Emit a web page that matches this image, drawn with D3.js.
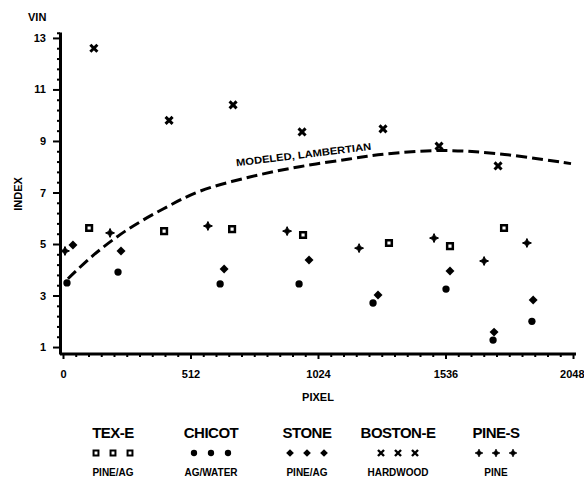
<!DOCTYPE html>
<html>
<head>
<meta charset="utf-8">
<script src="https://cdn.jsdelivr.net/npm/d3@7"></script>
<style>
  body { margin: 0; background: #fff; }
  svg text { font-family: "Liberation Sans Narrow", "Liberation Sans", Arial, sans-serif; font-weight: bold; fill: #000; }
</style>
</head>
<body>
<div id="chart"></div>
<script>
// tick labels
var xTicks = [0, 512, 1024, 1536, 2048];
var yTicks = [1, 3, 5, 7, 9, 11, 13];

// series (pixel position, vin index)
var texPix = [105, 406, 679, 964, 1309, 1554, 1771];
var texVal = [5.62, 5.5, 5.58, 5.35, 5.04, 4.92, 5.62];

var chicotPix = [16, 221, 631, 948, 1245, 1538, 1727, 1883];
var chicotVal = [3.49, 3.91, 3.45, 3.45, 2.71, 3.25, 1.27, 2.0];

var stonePix = [40, 233, 647, 988, 1265, 1554, 1731, 1888];
var stoneVal = [4.96, 4.73, 4.03, 4.38, 3.02, 3.95, 1.58, 2.83];

var bostonPix = [124, 426, 683, 960, 1285, 1510, 1747];
var bostonVal = [12.6, 9.8, 10.4, 9.35, 9.47, 8.8, 8.03];

var pinePix = [8, 189, 582, 900, 1189, 1490, 1691, 1863];
var pineVal = [4.73, 5.43, 5.7, 5.5, 4.84, 5.23, 4.34, 5.04];

// modeled lambertian curve
var lambPix = [20, 120, 250, 400, 550, 750, 950, 1150, 1300, 1520, 1750, 2040];
var lambVal = [3.65, 4.55, 5.5, 6.35, 7.05, 7.6, 8.0, 8.3, 8.5, 8.63, 8.5, 8.12];

var legendNames = ["TEX-E", "CHICOT", "STONE", "BOSTON-E", "PINE-S"];
var legendCover = ["PINE/AG", "AG/WATER", "PINE/AG", "HARDWOOD", "PINE"];

var width = 584, height = 482;

var svg = d3.select("#chart").append("svg")
    .attr("width", width)
    .attr("height", height);

var x = d3.scaleLinear().domain([-12, 2056]).range([60, 575]);
var y = d3.scaleLinear().domain([0.73, 13.23]).range([354, 32]);

// four point star for PINE-S
var star = {
    draw: function(ctx, size) {
        var r = Math.sqrt(size) / 2, k = r * 0.32;
        ctx.moveTo(0, -r); ctx.lineTo(k, -k); ctx.lineTo(r, 0); ctx.lineTo(k, k);
        ctx.lineTo(0, r); ctx.lineTo(-k, k); ctx.lineTo(-r, 0); ctx.lineTo(-k, -k);
        ctx.closePath();
    }
};

// square turned 45 degrees
var diamond = {
    draw: function(ctx, size) {
        var r = Math.sqrt(size) / 2;
        ctx.moveTo(0, -r); ctx.lineTo(r, 0); ctx.lineTo(0, r); ctx.lineTo(-r, 0);
        ctx.closePath();
    }
};

var styles = [
    { type: d3.symbolSquare, size: 32, fill: "none", stroke: "#000", sw: 2.5 },
    { type: d3.symbolCircle, size: 42, fill: "#000", stroke: "none", sw: 0 },
    { type: diamond, size: 80, fill: "#000", stroke: "none", sw: 0 },
    { type: d3.symbolTimes, size: 34, fill: "none", stroke: "#000", sw: 3 },
    { type: star, size: 80, fill: "#000", stroke: "#000", sw: 1 }
];

var series = [
    { pix: texPix, val: texVal },
    { pix: chicotPix, val: chicotVal },
    { pix: stonePix, val: stoneVal },
    { pix: bostonPix, val: bostonVal },
    { pix: pinePix, val: pineVal }
];

// minor ticks
var yMinor = d3.range(1, 13.01, 0.4).concat([13.2]).filter(function(v) { return Math.abs(((v - 1) / 2) - Math.round((v - 1) / 2)) > 0.01; });
var xMinor = d3.range(0, 2049, 51.2).filter(function(v) { return Math.abs(v / 512 - Math.round(v / 512)) > 0.01; });

var yAxisG = svg.append("g")
    .attr("transform", "translate(60,0)")
    .call(d3.axisLeft(y).tickValues(yTicks).tickSize(7).tickSizeOuter(0).tickPadding(7).tickFormat(d3.format("d")));

svg.append("g")
    .attr("transform", "translate(60,0)")
    .call(d3.axisLeft(y).tickValues(yMinor).tickSize(3).tickSizeOuter(0).tickFormat(""))
    .call(function(g) { g.select(".domain").remove(); });

var xAxisG = svg.append("g")
    .attr("transform", "translate(0,354)")
    .call(d3.axisBottom(x).tickValues(xTicks).tickSize(5).tickSizeOuter(0).tickPadding(11).tickFormat(d3.format("d")));

svg.append("g")
    .attr("transform", "translate(0,354)")
    .call(d3.axisBottom(x).tickValues(xMinor).tickSize(3).tickSizeOuter(0).tickFormat(""))
    .call(function(g) { g.select(".domain").remove(); });

svg.selectAll(".domain").attr("stroke-width", 3);
svg.selectAll(".tick line").attr("stroke-width", 2);
svg.selectAll(".tick text")
    .style("font-size", "11px")
    .style("font-weight", "bold");
xAxisG.selectAll(".domain").attr("d", "M60,0H576");
// last x label sits at the right edge, keep it inside
xAxisG.selectAll(".tick text").filter(function(d) { return d === 2048; })
    .attr("text-anchor", "end").attr("x", 11);

// axis titles
svg.append("text").attr("x", 28).attr("y", 21).style("font-size", "11px").text("VIN");
svg.append("text")
    .attr("transform", "translate(22,194) rotate(-90)")
    .attr("text-anchor", "middle")
    .style("font-size", "11px")
    .text("INDEX");
svg.append("text").attr("x", 318).attr("y", 401).attr("text-anchor", "middle")
    .style("font-size", "11px").text("PIXEL");

// lambertian curve
var lambData = lambPix.map(function(p, i) { return [p, lambVal[i]]; });
var line = d3.line()
    .x(function(d) { return x(d[0]); })
    .y(function(d) { return y(d[1]); })
    .curve(d3.curveCatmullRom);

svg.append("path")
    .datum(lambData)
    .attr("fill", "none")
    .attr("stroke", "#000")
    .attr("stroke-width", 3)
    .attr("stroke-dasharray", "11,5")
    .attr("d", line);

svg.append("text")
    .attr("transform", "translate(304,158) rotate(-7)")
    .attr("text-anchor", "middle")
    .attr("textLength", 136)
    .attr("lengthAdjust", "spacingAndGlyphs")
    .style("font-size", "10px")
    .text("MODELED, LAMBERTIAN");

// points
series.forEach(function(s, k) {
    var st = styles[k];
    var sym = d3.symbol().type(st.type).size(st.size);
    svg.append("g").selectAll("path")
        .data(s.pix.map(function(p, i) { return [p, s.val[i]]; }))
        .enter().append("path")
            .attr("transform", function(d) { return "translate(" + x(d[0]) + "," + y(d[1]) + ")"; })
            .attr("d", sym)
            .attr("fill", st.fill)
            .attr("stroke", st.stroke)
            .attr("stroke-width", st.sw);
});

// legend
var legendX = [113, 211, 307, 398, 496];
var lg = svg.append("g").selectAll("g")
    .data(legendNames)
    .enter().append("g")
        .attr("transform", function(d, i) { return "translate(" + legendX[i] + ",0)"; });

lg.append("text")
    .attr("y", 438)
    .attr("text-anchor", "middle")
    .style("font-size", "15px")
    .style("letter-spacing", "-0.5px")
    .text(function(d) { return d; });

lg.append("text")
    .attr("y", 476)
    .attr("text-anchor", "middle")
    .style("font-size", "10px")
    .text(function(d, i) { return legendCover[i]; });

lg.each(function(d, i) {
    var st = styles[i];
    var sym = d3.symbol().type(st.type).size(st.size * 0.75);
    d3.select(this).selectAll("path")
        .data([-17, 0, 17])
        .enter().append("path")
            .attr("transform", function(dx) { return "translate(" + dx + ",453)"; })
            .attr("d", sym)
            .attr("fill", st.fill)
            .attr("stroke", st.stroke)
            .attr("stroke-width", st.sw * 0.8);
});
</script>
</body>
</html>
